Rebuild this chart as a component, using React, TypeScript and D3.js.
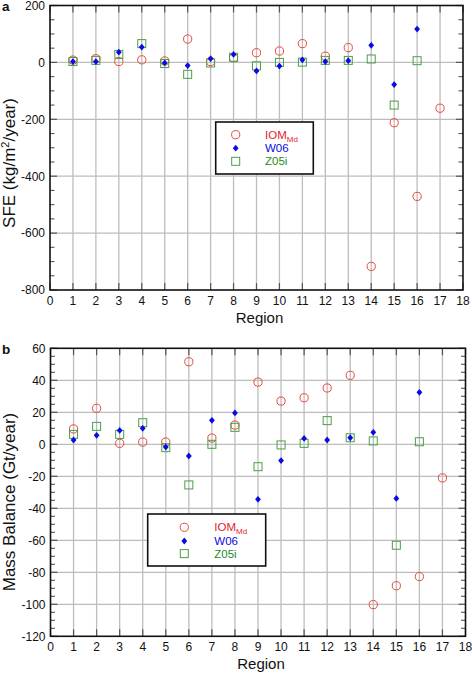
import React from "react";
import * as d3 from "d3";

// ---- data ----
const regions = [1, 2, 3, 4, 5, 6, 7, 8, 9, 10, 11, 12, 13, 14, 15, 16, 17];
const xTicks = [0, 1, 2, 3, 4, 5, 6, 7, 8, 9, 10, 11, 12, 13, 14, 15, 16, 17, 18];

const sfeIOM = [8, 13, 3, 9, 5, 82, 3, 16, 34, 40, 66, 22, 52, -717, -212, -471, -161];
const sfeW06 = [3, 3, 36, 54, -2, -11, 13, 28, -30, -13, 9, 3, 6, 60, -78, 117, null];
const sfeZ05 = [3, 7, 28, 66, -4, -42, -2, 18, -12, 0, 1, 7, 7, 12, -150, 6, null];
const sfeTicks = [-800, -600, -400, -200, 0, 200];

const mbIOM = [9.6, 22.5, 0.6, 1.4, 1.4, 51.6, 3.9, 12, 38.9, 27, 29.1, 35.2, 43.1, -100.2, -88.4, -82.7, -21];
const mbW06 = [2.7, 5.6, 8.7, 10, -1.7, -7.3, 15, 19.6, -34.4, -10.2, 3.7, 2.7, 4.1, 7.5, -33.8, 32.5, null];
const mbZ05 = [6.2, 11.2, 6.2, 13.5, -2.1, -25.4, 0, 10.6, -14, -0.4, 0.6, 14.8, 4.1, 2.1, -63.1, 1.6, null];
const mbTicks = [-120, -100, -80, -60, -40, -20, 0, 20, 40, 60];

const seriesNames = ["IOM", "W06", "Z05i"];

// ---- styles ----
const FONT = "'Liberation Sans', Arial, Helvetica, sans-serif";
const RED = "#e8493f";
const RED_TXT = "#e5222a";
const BLUE = "#0a0ae6";
const GREEN = "#47a047";
const GREEN_TXT = "#1f8a1f";
const GRID = "#bdbdbd";

type PanelProps = {
  left: number; right: number; top: number; bottom: number;
  domain: [number, number]; ticks: number[]; minorStep: number;
  iom: (number | null)[]; w06: (number | null)[]; z05: (number | null)[];
  letter: string; letterY: number;
  yLabel: React.ReactNode; yLabelCenter: number;
  tickBaseline: number; titleBaseline: number;
  legend: { x: number; y: number; w: number; h: number; symX: number; txtX: number; rows: number[] };
};

const diamond = "M0,-3.4 L2.9,0 L0,3.4 L-2.9,0 Z";
const CR = 4.1;
const SQ = 8;

function Panel(p: PanelProps) {
  const x = d3.scaleLinear().domain([0, 18]).range([p.left, p.right]);
  const y = d3.scaleLinear().domain(p.domain).range([p.bottom, p.top]);
  const minors = d3.range(p.domain[0], p.domain[1] + 1e-9, p.minorStep).filter((v) => !p.ticks.includes(v));
  const pts = (arr: (number | null)[]) =>
    regions.map((r, i) => ({ r, v: arr[i] })).filter((d) => d.v !== null && d.v !== undefined) as { r: number; v: number }[];
  const L = p.legend;
  return (
    <g>
      {/* grid */}
      {xTicks.slice(1, -1).map((t) => (
        <line key={"gx" + t} x1={x(t)} x2={x(t)} y1={p.top} y2={p.bottom} stroke={GRID} strokeWidth={1.3} />
      ))}
      {p.ticks.slice(1, -1).map((t) => (
        <line key={"gy" + t} x1={p.left} x2={p.right} y1={y(t)} y2={y(t)} stroke={GRID} strokeWidth={1.3} />
      ))}
      {/* x ticks */}
      {xTicks.map((t) => (
        <g key={"tx" + t}>
          <line x1={x(t)} x2={x(t)} y1={p.bottom} y2={p.bottom - 7} stroke="#555" strokeWidth={1.2} />
          <line x1={x(t)} x2={x(t)} y1={p.top} y2={p.top + 7} stroke="#555" strokeWidth={1.2} />
          <text x={x(t)} y={p.tickBaseline} textAnchor="middle" fontSize={12} fontFamily={FONT} fill="#111">{t}</text>
        </g>
      ))}
      {/* y ticks */}
      {p.ticks.map((t) => (
        <g key={"ty" + t}>
          <line x1={p.left} x2={p.left + 7} y1={y(t)} y2={y(t)} stroke="#555" strokeWidth={1.2} />
          <line x1={p.right} x2={p.right - 7} y1={y(t)} y2={y(t)} stroke="#555" strokeWidth={1.2} />
          <text x={p.left - 5} y={y(t) + 4.3} textAnchor="end" fontSize={12} fontFamily={FONT} fill="#111">{t}</text>
        </g>
      ))}
      {minors.map((t) => (
        <g key={"my" + t}>
          <line x1={p.left} x2={p.left + 4.5} y1={y(t)} y2={y(t)} stroke="#555" strokeWidth={1.1} />
          <line x1={p.right} x2={p.right - 4.5} y1={y(t)} y2={y(t)} stroke="#555" strokeWidth={1.1} />
        </g>
      ))}
      {/* frame */}
      <rect x={p.left} y={p.top} width={p.right - p.left} height={p.bottom - p.top} fill="none" stroke="#111" strokeWidth={1.6} />
      {/* data */}
      {pts(p.iom).map((d) => (
        <circle key={"c" + d.r} cx={x(d.r)} cy={y(d.v)} r={CR} fill="none" stroke={RED} strokeWidth={1} />
      ))}
      {pts(p.z05).map((d) => (
        <rect key={"s" + d.r} x={x(d.r) - SQ / 2} y={y(d.v) - SQ / 2} width={SQ} height={SQ} fill="none" stroke={GREEN} strokeWidth={1} />
      ))}
      {pts(p.w06).map((d) => (
        <path key={"d" + d.r} d={diamond} transform={`translate(${x(d.r)},${y(d.v)})`} fill={BLUE} />
      ))}
      {/* labels */}
      <text x={2} y={p.letterY} fontSize={13.5} fontWeight="bold" fontFamily={FONT} fill="#111">{p.letter}</text>
      <text x={x(9) + 3} y={p.titleBaseline} textAnchor="middle" fontSize={15} fontFamily={FONT} fill="#111">Region</text>
      <text transform={`translate(15,${p.yLabelCenter}) rotate(-90)`} textAnchor="middle" fontSize={17} fontFamily={FONT} fill="#111">
        {p.yLabel}
      </text>
      {/* legend */}
      <rect x={L.x} y={L.y} width={L.w} height={L.h} fill="#fff" stroke="#111" strokeWidth={1.6} />
      <circle cx={L.symX} cy={L.rows[0]} r={CR} fill="none" stroke={RED} strokeWidth={1} />
      <path d={diamond} transform={`translate(${L.symX},${L.rows[1]})`} fill={BLUE} />
      <rect x={L.symX - SQ / 2} y={L.rows[2] - SQ / 2} width={SQ} height={SQ} fill="none" stroke={GREEN} strokeWidth={1} />
      <text x={L.txtX} y={L.rows[0] + 4} fontSize={11.5} fontFamily={FONT} fill={RED_TXT}>
        {seriesNames[0]}
        <tspan fontSize={8} dy={3}>Md</tspan>
      </text>
      <text x={L.txtX} y={L.rows[1] + 4} fontSize={11.5} fontFamily={FONT} fill={BLUE}>{seriesNames[1]}</text>
      <text x={L.txtX} y={L.rows[2] + 4} fontSize={11.5} fontFamily={FONT} fill={GREEN_TXT}>{seriesNames[2]}</text>
    </g>
  );
}

export default function App() {
  return (
    <svg width={472} height={673} style={{ position: "absolute", left: 0, top: 0, background: "#fff" }}>
      <Panel
        left={50} right={463} top={5.5} bottom={290}
        domain={[-800, 200]} ticks={sfeTicks} minorStep={50}
        iom={sfeIOM} w06={sfeW06} z05={sfeZ05}
        letter="a" letterY={10.5}
        yLabel={<>SFE (kg/m<tspan fontSize={11} dy={-6}>2</tspan><tspan dy={6}>/year)</tspan></>}
        yLabelCenter={163}
        tickBaseline={305} titleBaseline={323}
        legend={{ x: 215.7, y: 122, w: 97.6, h: 52, symX: 235.7, txtX: 265, rows: [134.7, 148.2, 161.3] }}
      />
      <Panel
        left={50.5} right={465.5} top={348.3} bottom={636.3}
        domain={[-120, 60]} ticks={mbTicks} minorStep={5}
        iom={mbIOM} w06={mbW06} z05={mbZ05}
        letter="b" letterY={354}
        yLabel={<>Mass Balance (Gt/year)</>}
        yLabelCenter={502}
        tickBaseline={650.5} titleBaseline={669}
        legend={{ x: 147.7, y: 514, w: 118, h: 52, symX: 184.3, txtX: 214.3, rows: [527.3, 541, 553.6] }}
      />
    </svg>
  );
}
